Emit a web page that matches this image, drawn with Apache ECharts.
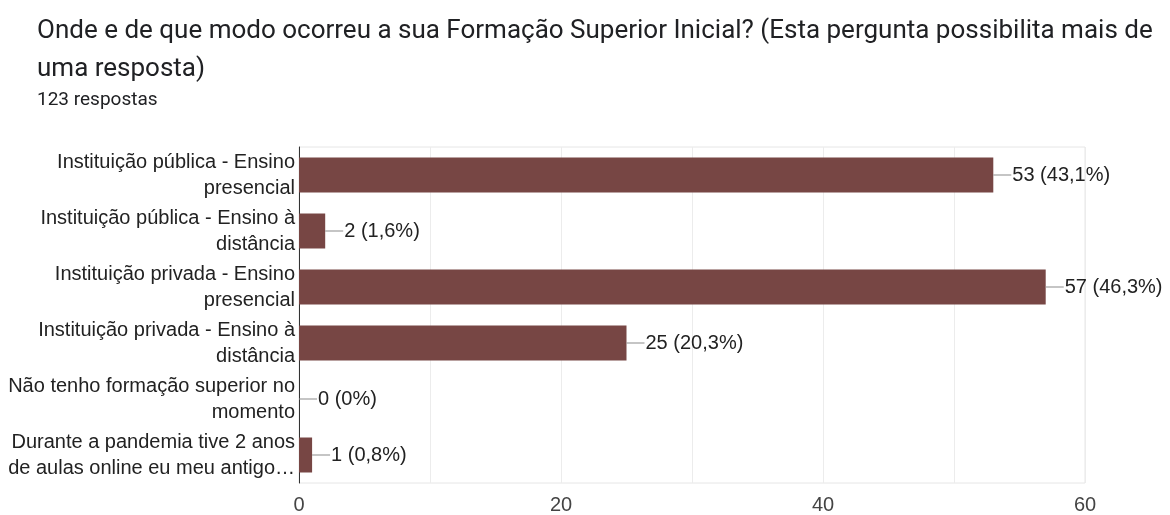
<!DOCTYPE html>
<html>
<head>
<meta charset="utf-8">
<script src="https://cdn.jsdelivr.net/npm/echarts@6/dist/echarts.min.js"></script>
<style>
  html, body { margin: 0; padding: 0; background: #fff; }
  #chart { width: 1170px; height: 515px; }
</style>
</head>
<body>
<div id="chart"></div>
<script>
const categories = [
  'Instituição pública - Ensino\npresencial',
  'Instituição pública - Ensino à\ndistância',
  'Instituição privada - Ensino\npresencial',
  'Instituição privada - Ensino à\ndistância',
  'Não tenho formação superior no\nmomento',
  'Durante a pandemia tive 2 anos\nde aulas online eu meu antigo…'
]
const values = [53, 2, 57, 25, 0, 1]
const pctLabels = ['43,1%', '1,6%', '46,3%', '20,3%', '0%', '0,8%']
const xTicks = [0, 20, 40, 60]

const chart = echarts.init(document.getElementById('chart'))

const options = {
  animation: false,
  title: [
    {
      left: 37,
      top: 12,
      padding: 0,
      text: 'Onde e de que modo ocorreu a sua Formação Superior Inicial? (Esta pergunta possibilita mais de\numa resposta)',
      textStyle: {
        fontFamily: 'Roboto',
        fontSize: 26,
        fontWeight: 'normal',
        color: '#202124',
        lineHeight: 38,
      },
    },
    {
      left: 37,
      top: 90,
      padding: 0,
      text: '123 respostas',
      textStyle: {
        fontFamily: 'Roboto',
        fontSize: 19,
        fontWeight: 'normal',
        color: '#202124',
        lineHeight: 20,
      },
    },
  ],
  grid: {
    left: 299,
    right: 85,
    top: 147,
    bottom: 31,
    show: true,
    borderColor: '#e6e6e6',
    borderWidth: 1,
  },
  xAxis: {
    type: 'value',
    min: 0,
    max: 60,
    interval: 10,
    axisLine: { show: false },
    axisTick: { show: false },
    splitLine: { lineStyle: { color: '#ececec' } },
    axisLabel: {
      margin: 12,
      fontFamily: 'Liberation Sans',
      fontSize: 20,
      color: '#444',
      formatter: v => (xTicks.includes(v) ? String(v) : ''),
    },
  },
  yAxis: {
    type: 'category',
    inverse: true,
    data: categories,
    axisLine: { show: true, lineStyle: { color: '#333', width: 1 } },
    axisTick: { show: false },
    axisLabel: {
      margin: 4,
      align: 'right',
      fontFamily: 'Liberation Sans',
      fontSize: 20,
      lineHeight: 26,
      color: '#222',
    },
  },
  series: [
    {
      type: 'bar',
      data: values,
      barWidth: 35,
      itemStyle: { color: '#774644' },
      label: {
        show: true,
        position: 'right',
        distance: 0,
        formatter: p => '{l|}{t|' + p.value + ' (' + pctLabels[p.dataIndex] + ')}',
        rich: {
          l: { width: 18, height: 1, backgroundColor: '#8a8a8a', verticalAlign: 'middle' },
          t: {
            fontFamily: 'Liberation Sans',
            fontSize: 20,
            color: '#222',
            padding: [0, 0, 0, 1],
            verticalAlign: 'middle',
          },
        },
      },
    },
  ],
}

chart.setOption(options)
window.addEventListener('resize', function () {
  chart && chart.resize()
})
</script>
</body>
</html>
